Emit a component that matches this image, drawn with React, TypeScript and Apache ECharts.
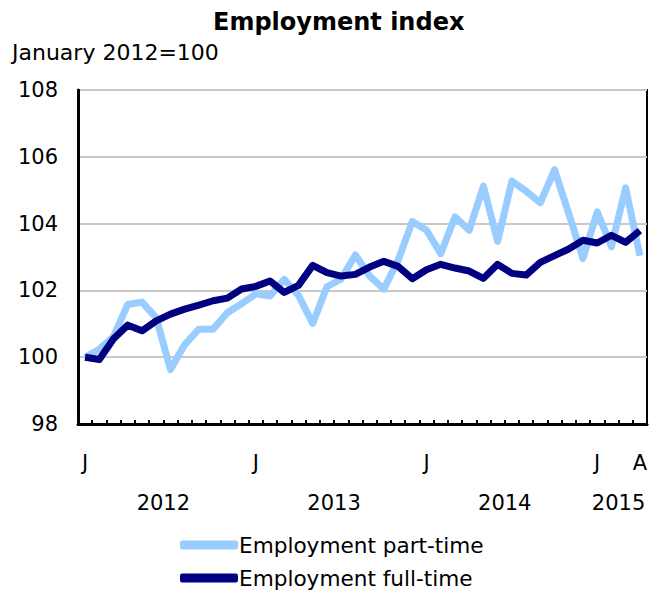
import React, { useEffect, useRef } from "react";
import * as echarts from "echarts";

const months: string[] = [];
for (let y = 2012; y <= 2015; y++) {
  for (let m = 1; m <= 12; m++) {
    if (y === 2015 && m > 4) break;
    months.push(`${y}-${String(m).padStart(2, "0")}`);
  }
}

const partTime = [
  100.0, 100.24, 100.62, 101.58, 101.65, 101.18, 99.63, 100.38, 100.84, 100.84, 101.33, 101.6,
  101.9, 101.83, 102.33, 101.85, 101.01, 102.11, 102.34, 103.06, 102.43, 102.04, 102.9, 104.06,
  103.8, 103.1, 104.2, 103.8, 105.12, 103.47, 105.27, 104.97, 104.62, 105.61, 104.3, 102.96,
  104.35, 103.31, 105.07, 103.04,
];

const fullTime = [
  100.0, 99.93, 100.55, 100.96, 100.79, 101.09, 101.29, 101.44, 101.56, 101.69, 101.77, 102.04,
  102.12, 102.28, 101.94, 102.15, 102.75, 102.53, 102.43, 102.48, 102.7, 102.87, 102.72, 102.35,
  102.62, 102.78, 102.67, 102.58, 102.36, 102.78, 102.51, 102.46, 102.84, 103.04, 103.24, 103.5,
  103.42, 103.65, 103.44, 103.79,
];

const yearLabels = ["2012", "2013", "2014", "2015"];
const yearCenters = [5.5, 17.5, 29.5, 37.5];

const FONT = "DejaVu Sans";

export default function App() {
  const ref = useRef<HTMLDivElement>(null);
  useEffect(() => {
    if (!ref.current) return;
    const chart = echarts.init(ref.current, undefined, { renderer: "svg" });
    const legendBase = {
      orient: "horizontal",
      left: 172,
      padding: 0,
      itemWidth: 58,
      itemHeight: 9,
      icon: "roundRect",
      textStyle: { fontFamily: FONT, fontSize: 21.6, lineHeight: 22, color: "#000", padding: [0, 0, 0, -4] },
    };
    chart.setOption({
      animation: false,
      backgroundColor: "#fff",
      title: [
        {
          text: "Employment index",
          left: 205,
          top: 1,
          padding: 0,
          textStyle: { fontFamily: FONT, fontSize: 24, lineHeight: 26, fontWeight: "bold", color: "#000" },
        },
        {
          text: "January 2012=100",
          left: -1,
          top: 28,
          textStyle: { fontFamily: FONT, fontSize: 22, fontWeight: "normal", color: "#000" },
        },
      ],
      grid: {
        left: 70,
        right: 16,
        top: 82,
        bottom: 169,
        show: true,
        borderColor: "#000",
        borderWidth: 2,
        containLabel: false,
      },
      legend: [
        { ...legendBase, top: 526, data: ["Employment part-time"] },
        { ...legendBase, top: 559, data: ["Employment full-time"] },
      ],
      xAxis: [
        {
          type: "category",
          data: months,
          boundaryGap: true,
          axisLine: { show: true, onZero: false, lineStyle: { color: "#000", width: 3 } },
          axisTick: { show: true, inside: true, length: 4, interval: 0, lineStyle: { color: "#000", width: 2 } },
          axisLabel: {
            interval: 0,
            margin: 28,
            fontFamily: FONT,
            fontSize: 21,
            color: "#000",
            formatter: (v: string, i: number) => {
              if (i === months.length - 1) return "A";
              return v.endsWith("-01") ? "J" : "";
            },
          },
          splitLine: { show: false },
        },
        {
          type: "value",
          position: "bottom",
          min: -0.5,
          max: months.length - 0.5,
          axisLine: { show: false, onZero: false },
          axisTick: { show: false },
          splitLine: { show: false },
          axisLabel: {
            customValues: yearCenters,
            margin: 68,
            fontFamily: FONT,
            fontSize: 21,
            color: "#000",
            formatter: (v: number) => {
              const idx = yearCenters.indexOf(v);
              return idx >= 0 ? yearLabels[idx] : "";
            },
          },
        },
      ],
      yAxis: {
        type: "value",
        min: 98,
        max: 108,
        interval: 2,
        axisLine: { show: true, onZero: false, lineStyle: { color: "#000", width: 3 } },
        axisTick: { show: false },
        axisLabel: { fontFamily: FONT, fontSize: 21, color: "#000", margin: 20 },
        splitLine: { show: true, lineStyle: { color: "#c8c8c8", width: 2 } },
      },
      series: [
        {
          name: "Employment part-time",
          type: "line",
          data: partTime,
          symbol: "none",
          color: "#99ccff",
          lineStyle: { width: 7, color: "#99ccff", join: "round" },
        },
        {
          name: "Employment full-time",
          type: "line",
          data: fullTime,
          symbol: "none",
          color: "#000080",
          lineStyle: { width: 7, color: "#000080", join: "round" },
        },
      ],
    });
    return () => chart.dispose();
  }, []);
  return <div ref={ref} style={{ width: 655, height: 585 }} />;
}
